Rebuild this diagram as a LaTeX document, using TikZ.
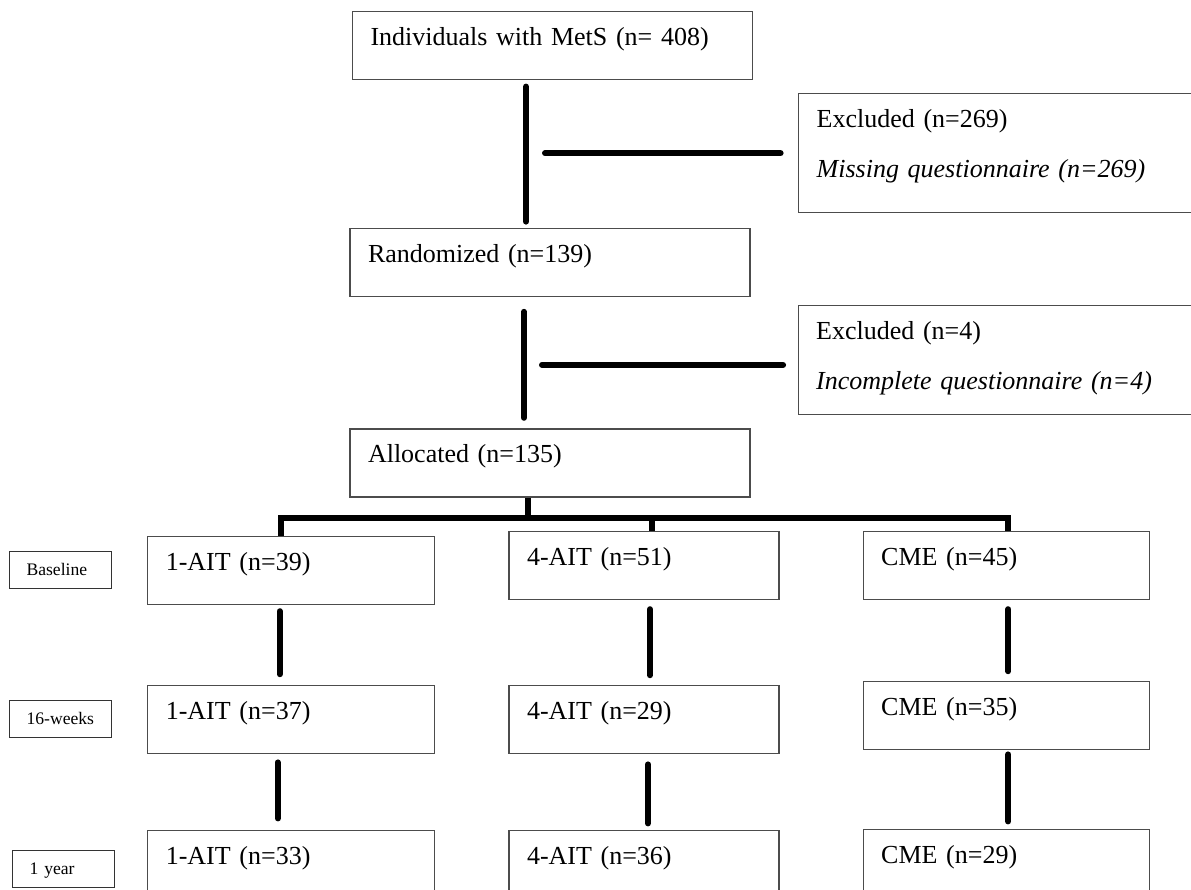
\documentclass[tikz,border=0pt]{standalone}
\usepackage{fontspec}
\setmainfont{Liberation Serif}
\usetikzlibrary{positioning}

\newcommand{\boxfont}{\fontsize{13}{16}\selectfont}
\newcommand{\periodfont}{\fontsize{8.8}{10}\selectfont}

\begin{document}
\begin{tikzpicture}[
    box/.style={rectangle, draw=black!70, line width=0.6pt, align=left, inner xsep=9pt, inner ysep=0pt, text height=17pt, text depth=17pt, font=\boxfont},
    excl/.style={box, text width=197pt},
    period/.style={rectangle, draw=black!80, line width=0.6pt, align=left, inner xsep=8.5pt, inner ysep=0pt, text width=34pt, text height=12pt, text depth=6.5pt, font=\periodfont},
    link/.style={line width=3pt, line cap=round},
    tree/.style={line width=3pt, line join=miter}
]

    \path[use as bounding box, fill=white] (0,0) rectangle (595.5pt,-445pt);
    \clip (0,0) rectangle (595.5pt,-445pt);

    % Screening and randomisation
    \node[box, text width=182pt] (indiv) at (276.25pt,-22.75pt) {Individuals with MetS (n= 408)};
    \node[box, text width=182pt] (rand) [below=74pt of indiv, xshift=-1.25pt] {Randomized (n=139)};
    \node[box, text width=182pt] (alloc) [below=65.5pt of rand] {Allocated (n=135)};

    % Exclusions
    \node[excl, text depth=42.5pt] (excl1) [below right=6.5pt and 22.5pt of indiv] {Excluded (n=269)\\[9pt]\textit{Missing questionnaire (n=269)}};
    \node[excl, text depth=37.5pt] (excl2) [below right=3.75pt and 23.5pt of rand] {Excluded (n=4)\\[9pt]\textit{Incomplete questionnaire (n=4)}};

    % Baseline groups
    \node[box, text width=117pt] (b1) [below=16.5pt of alloc, xshift=47pt] {4-AIT (n=51)};
    \node[box, text width=125.5pt] (a1) [left=36.5pt of b1, yshift=-2.5pt] {1-AIT (n=39)};
    \node[box, text width=125pt] (c1) [right=41.5pt of b1] {CME (n=45)};

    % 16 weeks
    \node[box, text width=125.5pt] (a2) [below=40pt of a1] {1-AIT (n=37)};
    \node[box, text width=117pt] (b2) [below=42.5pt of b1] {4-AIT (n=29)};
    \node[box, text width=125pt] (c2) [below=40.5pt of c1] {CME (n=35)};

    % 1 year
    \node[box, text width=125.5pt] (a3) [below=38pt of a2] {1-AIT (n=33)};
    \node[box, text width=117pt] (b3) [below=38pt of b2] {4-AIT (n=36)};
    \node[box, text width=125pt] (c3) [below=39.5pt of c2] {CME (n=29)};

    % Time points
    \node[period] (t1) [left=17.5pt of a1] {Baseline};
    \node[period] (t2) [left=17.5pt of a2] {16-weeks};
    \node[period] (t3) [left=16pt of a3, yshift=-2.25pt] {1 year};

    % Flow lines
    \coordinate (trunk1) at ([xshift=-13.25pt]indiv.south);
    \coordinate (trunk2) at ([xshift=-13pt]rand.south);
    \coordinate (tap2) at ([yshift=-2.5pt]excl2.west);
    \draw[link, shorten <=3.25pt, shorten >=3.25pt] (trunk1) -- (trunk1 |- rand.north);
    \draw[link, shorten <=9.5pt, shorten >=8.75pt] (trunk1 |- excl1.west) -- (excl1.west);
    \draw[link, shorten <=7.25pt, shorten >=5.25pt] (trunk2) -- (trunk2 |- alloc.north);
    \draw[link, shorten <=9pt, shorten >=7.25pt] (trunk2 |- tap2) -- (tap2);

    % Allocation branches
    \coordinate (stem) at ([xshift=-11.25pt]alloc.south);
    \coordinate (bus) at ([yshift=-10.25pt]stem);
    \coordinate (d1) at ([xshift=-5.25pt]a1.north);
    \coordinate (d2) at ([xshift=4pt]b1.north);
    \coordinate (d3) at ([xshift=1pt]c1.north);
    \draw[tree] (d1) |- (bus) -| (d3);
    \draw[tree] (stem) -- (bus);
    \draw[tree] (d2) -- (d2 |- bus);

    % Follow-up lines
    \draw[link, shorten <=3.25pt, shorten >=5.25pt] ([xshift=-5.75pt]a1.south) -- ([xshift=-5.75pt]a2.north);
    \draw[link, shorten <=4.25pt, shorten >=5.75pt] ([xshift=-6.75pt]a2.south) -- ([xshift=-6.75pt]a3.north);
    \draw[link, shorten <=4.75pt, shorten >=4.75pt] ([xshift=3pt]b1.south) -- ([xshift=3pt]b2.north);
    \draw[link, shorten <=5.25pt, shorten >=3.25pt] ([xshift=2pt]b2.south) -- ([xshift=2pt]b3.north);
    \draw[link, shorten <=4.75pt, shorten >=4.75pt] ([xshift=1pt]c1.south) -- ([xshift=1pt]c2.north);
    \draw[link, shorten <=2.25pt, shorten >=3.75pt] ([xshift=1pt]c2.south) -- ([xshift=1pt]c3.north);

\end{tikzpicture}
\end{document}
